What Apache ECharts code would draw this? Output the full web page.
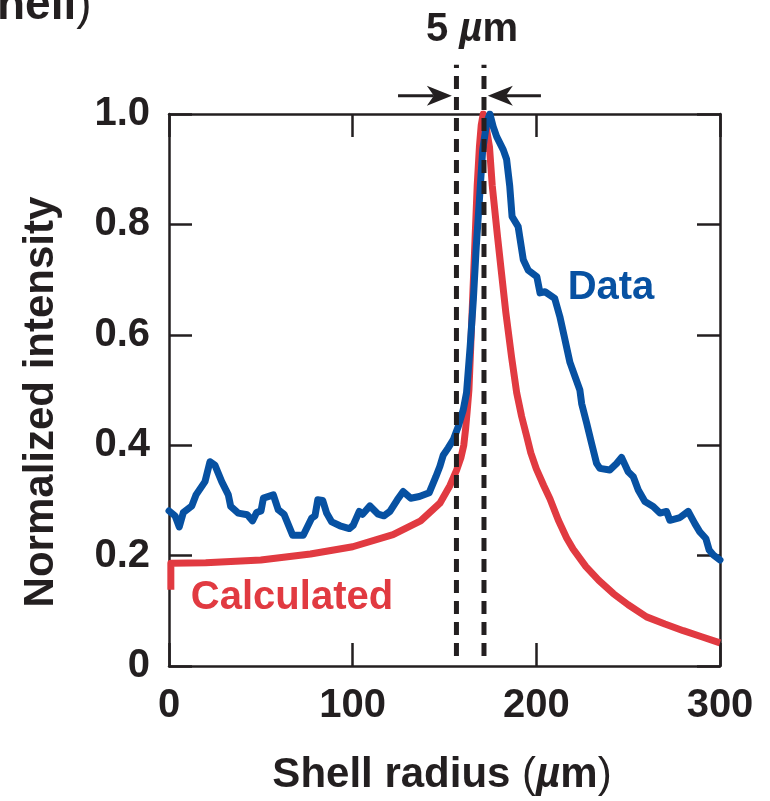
<!DOCTYPE html>
<html>
<head>
<meta charset="utf-8">
<script src="https://cdn.jsdelivr.net/npm/echarts@6/dist/echarts.min.js"></script>
<style>html,body{margin:0;padding:0;background:#fff}#c{width:770px;height:801px}</style>
</head>
<body>
<div id="c"></div>
<script>
// Measured data (Shell radius in µm, normalized intensity)
var dataX = [0,3.3,5.6,7.8,12.4,14.7,19.6,22.3,25,28.7,32.3,33.6,37.7,42.6,45.5,47.7,50.1,51.4,56.8,59.5,62.6,67.3,73.1,77.7,79.5,81.0,83.7,85.8,88.6,93.1,98.2,100.3,103.6,105.4,109.4,113.9,117,120.3,124.3,127.5,131.6,136.3,141.7,145.3,147.5,149.3,152,154.8,157.5,160.2,162,164,165.7,167.3,169,170.8,173,174.7,176.5,178.4,182,183.8,185.5,186.8,190.1,192.9,195.6,200.3,202,204.7,210,212.8,215,218.3,221,223.7,224.7,227.4,230.1,232.8,234.6,240,243.7,246.4,250,252.8,255.5,259.1,263.6,267.3,270.9,272.7,278.2,282.7,286.3,289,292.3,294.1,296.4,300];
var dataY = [0.281,0.272,0.252,0.278,0.290,0.310,0.334,0.370,0.364,0.334,0.310,0.289,0.277,0.274,0.263,0.278,0.281,0.304,0.310,0.283,0.275,0.237,0.237,0.268,0.272,0.301,0.300,0.277,0.261,0.254,0.249,0.255,0.280,0.275,0.290,0.275,0.272,0.280,0.301,0.316,0.304,0.307,0.314,0.343,0.362,0.382,0.395,0.410,0.434,0.464,0.495,0.580,0.663,0.760,0.844,0.935,0.985,1.0,0.977,0.959,0.935,0.918,0.870,0.814,0.796,0.736,0.717,0.705,0.676,0.678,0.666,0.633,0.600,0.550,0.525,0.500,0.475,0.440,0.403,0.367,0.358,0.355,0.367,0.378,0.352,0.343,0.319,0.298,0.289,0.277,0.280,0.264,0.269,0.280,0.258,0.243,0.231,0.210,0.201,0.192];

var calcX = [1,1,20,50,77,100,122,137,147.5,153,156.6,159,160.5,161.5,162.3,163.3,164.3,165.5,166.6,167.8,169,170,171.1,172,174.5,176,178.8,181.1,183.4,186.5,189.3,192,194.7,197,200,204,207.4,212,216.5,220,227,234,242,250,260,270,280,290,300];
var calcY = [0.138,0.186,0.187,0.192,0.203,0.216,0.238,0.263,0.295,0.327,0.355,0.378,0.400,0.430,0.460,0.500,0.580,0.680,0.770,0.870,0.940,0.980,1.0,0.990,0.940,0.870,0.780,0.710,0.640,0.560,0.495,0.452,0.417,0.386,0.357,0.327,0.303,0.264,0.232,0.212,0.180,0.155,0.131,0.111,0.089,0.076,0.064,0.053,0.042];

// Dashed markers bounding the 5 µm region, and arrow annotation
var dashX = [156.5, 171.5];
var dashYRange = [0.018, 1.089];
var arrowY = 1.033;
var arrowLeft = [124.7, 154.0];   // [tail, tip]
var arrowRight = [202.5, 173.6];  // [tail, tip]

var xTicks = [0, 100, 200, 300];
var yTicks = [0, 0.2, 0.4, 0.6, 0.8, 1.0];

function zip(a, b) { return a.map(function (v, i) { return [v, b[i]]; }); }

var FONT = "'Liberation Sans', Arial, Helvetica, sans-serif";
var INK = '#231f20';
var BLUE = '#0751a2';
var RED = '#e13a41';

var chart = echarts.init(document.getElementById('c'), null, {renderer: 'canvas'});

var tickStyle = {show: true, inside: true, length: 23, lineStyle: {color: INK, width: 2.5}};
var lineStyleAx = {show: true, onZero: false, lineStyle: {color: INK, width: 2.5}};

var series = [
  {
    type: 'line', name: 'Calculated', data: zip(calcX, calcY), showSymbol: false, symbol: 'none',
    lineStyle: {color: RED, width: 7, join: 'round', cap: 'butt'}, z: 3, animation: false
  },
  {
    type: 'line', name: 'Data', data: zip(dataX, dataY), showSymbol: false, symbol: 'none',
    lineStyle: {color: BLUE, width: 7, join: 'round', cap: 'round'}, z: 4, animation: false
  }
];
dashX.forEach(function (x) {
  series.push({
    type: 'line', data: [[x, dashYRange[0]], [x, dashYRange[1]]], symbol: 'none', clip: false,
    lineStyle: {color: INK, width: 5, type: [13, 8]}, z: 5, animation: false, silent: true
  });
});
// Arrows drawn from data coordinates via a custom series
series.push({
  type: 'custom', clip: false, z: 6, silent: true, animation: false,
  data: [[arrowLeft[0], arrowLeft[1], arrowY], [arrowRight[0], arrowRight[1], arrowY]],
  encode: {x: [0, 1], y: 2},
  renderItem: function (params, api) {
    var tail = api.coord([api.value(0), api.value(2)]);
    var tip = api.coord([api.value(1), api.value(2)]);
    var dir = tip[0] > tail[0] ? 1 : -1;
    var L = 25, W = 10, notch = 7;
    return {
      type: 'group',
      children: [
        {
          type: 'line',
          shape: {x1: tail[0], y1: tail[1], x2: tip[0] - dir * (L - notch), y2: tip[1]},
          style: {stroke: INK, lineWidth: 3}
        },
        {
          type: 'polygon',
          shape: {points: [
            [tip[0], tip[1]],
            [tip[0] - dir * L, tip[1] - W],
            [tip[0] - dir * (L - notch), tip[1]],
            [tip[0] - dir * L, tip[1] + W]
          ]},
          style: {fill: INK}
        }
      ]
    };
  }
});

var option = {
  backgroundColor: '#ffffff',
  animation: false,
  grid: {left: 169, right: 50, top: 114, bottom: 135, containLabel: false},
  xAxis: [
    {
      type: 'value', min: 0, max: 300, interval: 100, position: 'bottom',
      axisLine: lineStyleAx, axisTick: tickStyle, splitLine: {show: false},
      axisLabel: {
        margin: 20, color: INK, fontSize: 40, fontWeight: 'bold', fontFamily: FONT,
        formatter: function (v) { return xTicks.indexOf(v) >= 0 ? String(v) : ''; }
      }
    },
    {
      type: 'value', min: 0, max: 300, interval: 100, position: 'top',
      axisLine: lineStyleAx, axisTick: tickStyle, splitLine: {show: false}, axisLabel: {show: false}
    }
  ],
  yAxis: [
    {
      type: 'value', min: 0, max: 1, interval: 0.2, position: 'left',
      axisLine: lineStyleAx, axisTick: tickStyle, splitLine: {show: false},
      axisLabel: {
        margin: 19, color: INK, fontSize: 40, fontWeight: 'bold', fontFamily: FONT,
        formatter: function (v) {
          var t = yTicks.filter(function (k) { return Math.abs(k - v) < 1e-6; });
          if (!t.length) return '';
          return t[0] === 0 ? '0' : t[0].toFixed(1);
        }
      }
    },
    {
      type: 'value', min: 0, max: 1, interval: 0.2, position: 'right',
      axisLine: lineStyleAx, axisTick: tickStyle, splitLine: {show: false}, axisLabel: {show: false}
    }
  ],
  series: series,
  graphic: [
    {
      type: 'text', x: 442, y: 775, z: 10,
      style: {
        text: '{b|Shell radius }{p|(}{mu|µ}{b|m}{p|)}',
        align: 'center', verticalAlign: 'middle',
        rich: {
          b: {fontSize: 42, fontWeight: 'bold', fontFamily: FONT, fill: INK},
          p: {fontSize: 42, fontWeight: 'normal', fontFamily: FONT, fill: INK},
          mu: {fontSize: 42, fontWeight: 'bold', fontStyle: 'italic', fontFamily: FONT, fill: INK}
        }
      }
    },
    {
      type: 'text', x: 41, y: 402, rotation: Math.PI / 2, z: 10,
      style: {
        text: 'Normalized intensity', align: 'center', verticalAlign: 'middle',
        fontSize: 42, fontWeight: 'bold', fontFamily: FONT, fill: INK
      }
    },
    {
      type: 'text', x: 472, y: 30, z: 10,
      style: {
        text: '{b|5 }{mu|µ}{b|m}', align: 'center', verticalAlign: 'middle',
        rich: {
          b: {fontSize: 40, fontWeight: 'bold', fontFamily: FONT, fill: INK},
          mu: {fontSize: 40, fontWeight: 'bold', fontStyle: 'italic', fontFamily: FONT, fill: INK}
        }
      }
    },
    {
      type: 'text', x: -3, y: 6, z: 10,
      style: {
        text: '{b|hell}{p|)}', align: 'left', verticalAlign: 'middle',
        rich: {
          b: {fontSize: 46, fontWeight: 'bold', fontFamily: FONT, fill: INK},
          p: {fontSize: 46, fontWeight: 'normal', fontFamily: FONT, fill: INK}
        }
      }
    },
    {
      type: 'text', x: 611, y: 288, z: 10,
      style: {
        text: 'Data', align: 'center', verticalAlign: 'middle',
        fontSize: 40, fontWeight: 'bold', fontFamily: FONT, fill: BLUE
      }
    },
    {
      type: 'text', x: 292, y: 598, z: 10,
      style: {
        text: 'Calculated', align: 'center', verticalAlign: 'middle',
        fontSize: 40, fontWeight: 'bold', fontFamily: FONT, fill: RED
      }
    }
  ]
};
chart.setOption(option);
</script>
</body>
</html>
